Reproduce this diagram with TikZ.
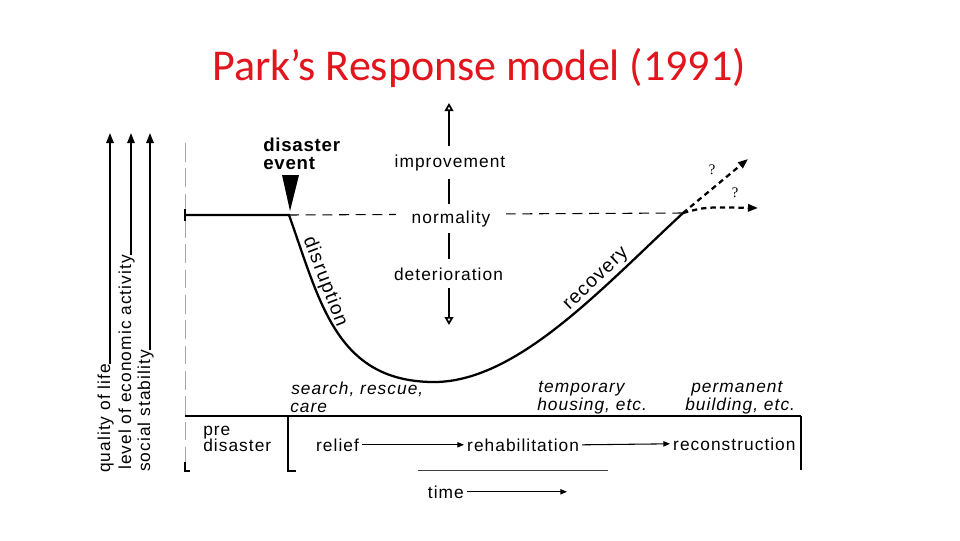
\documentclass[tikz,border=0pt]{standalone}
\usepackage{fontspec}
\setmainfont{Liberation Sans}
\newfontfamily\figfont{Liberation Sans}[LetterSpace=6]
\newfontfamily\figbold{Liberation Sans}[LetterSpace=4]
\newfontfamily\titlefont{Carlito}
\newfontfamily\qfont{Liberation Serif}
\usetikzlibrary{arrows.meta}
\definecolor{titlered}{RGB}{226,20,28}
\begin{document}
\begin{tikzpicture}[x=0.75pt,y=-0.75pt,
  lbl/.style={font=\figfont\fontsize{13}{15}\selectfont, inner sep=0pt, anchor=base},
  lblw/.style={lbl, anchor=base west},
  curvelbl/.style={font=\figfont\fontsize{14.5}{16}\selectfont, inner sep=0pt, anchor=center},
  ital/.style={font=\figfont\itshape\fontsize{13}{15}\selectfont, inner sep=0pt, anchor=base west},
  boldlbl/.style={font=\figbold\bfseries\fontsize{14}{16}\selectfont, inner sep=0pt, anchor=base west},
  qmark/.style={font=\qfont\fontsize{11}{13}\selectfont, inner sep=0pt},
  heavyln/.style={line width=1.7pt},
  medln/.style={line width=1.3pt},
  fineln/.style={line width=0.8pt},
  solidtip/.style={-{Triangle[length=7.5pt,width=5.5pt]}},
  smalltip/.style={-{Triangle[length=5pt,width=4pt]}},
  opentips/.style={{Triangle[open,length=6pt,width=6.5pt]}-{Triangle[open,length=6pt,width=6.5pt]}},
]
\useasboundingbox[fill=white] (0,0) rectangle (960,540);

% title
\node[font=\titlefont\fontsize{33}{39}\selectfont, text=titlered, anchor=base, inner sep=0pt] (title) at (479,80) {Park’s Response model (1991)};

% left vertical axes
\coordinate (ltop) at (0,133);
\node[lblw, rotate=90] (ql) at (110,473) {quality of life};
\node[lblw, rotate=90] (le) at (131,470) {level of economic activity};
\node[lblw, rotate=90] (ss) at (150,472) {social stability};
\draw[medln, solidtip] (ql.base east) -- (ql.base east |- ltop);
\draw[medln, solidtip] (le.base east) -- (le.base east |- ltop);
\draw[medln, solidtip] (ss.base east) -- (ss.base east |- ltop);

% frame
\draw[gray!70, line width=0.6pt, dash pattern=on 14pt off 5pt] (185,143) -- (185,462);
\coordinate (dis) at (289,215);
\coordinate (rec) at (683,213);
\coordinate (up) at (748,159);
\coordinate (low) at (758,208);

% normality dashed line
\draw[fineln, dash pattern=on 7.5pt off 5pt] (dis) -- (rec);

% central axis
\draw[medln, opentips] (449,325) -- (449,103);
\node[lbl, fill=white, inner xsep=2pt, inner ysep=6pt] (imp) at (450,167) {improvement};
\node[lbl, fill=white, inner xsep=12pt, inner ysep=5pt] (nor) at (451,223) {normality};
\node[lbl, fill=white, inner xsep=2pt, inner ysep=6pt] (det) at (448.5,280) {deterioration};

% response curve
\draw[medln] (185,209) -- (185,221);
\draw[heavyln] (185,215) -- (dis) .. controls (320,302) and (336,380) .. (431,382)
   .. controls (515,384) and (600,290) .. (rec);

% disaster event
\node[boldlbl] (de1) at (263,151) {disaster};
\node[boldlbl] (de2) at (263,169) {event};
\fill (282,175) -- (299,175) -- (290,211) -- cycle;

% curve labels
\node[curvelbl, rotate=-69] (disr) at (325,282) {disruption};
\node[curvelbl, rotate=44] (reco) at (597,280) {recovery};

% future branches
\draw[heavyln, dash pattern=on 4pt off 3pt, solidtip] (rec) -- (up);
\draw[heavyln, dash pattern=on 4pt off 3pt, solidtip] (rec) .. controls (705,207) .. (low);
\node[qmark] (q1) at (712,170) {?};
\node[qmark] (q2) at (735,193) {?};

% italic phase notes
\node[ital] (sr1) at (291,394) {search, rescue,};
\node[ital] (sr2) at (290,412) {care};
\node[ital] (th1) at (538,392) {temporary};
\node[ital] (th2) at (537,410) {housing, etc.};
\node[ital] (pb1) at (691,392) {permanent};
\node[ital] (pb2) at (685,410) {building, etc.};

% bottom band
\draw[medln] (185,416) -- (801,416);
\draw[heavyln] (288,416) -- (288,472);
\draw[fineln] (288,471) -- (296,471);
\draw[medln] (801,416) -- (801,470);
\draw[fineln] (185,462) -- (185,471) -- (190,471);
\draw[line width=0.6pt, black!75] (418,470) -- (608,470);

\node[lblw] (pre1) at (203,435) {pre};
\node[lblw] (pre2) at (203,451) {disaster};
\node[lblw, inner xsep=2.2pt] (rel) at (313,451) {relief};
\node[lblw, inner xsep=2.2pt] (reh) at (464,451) {rehabilitation};
\node[lblw, inner xsep=2.2pt] (rcn) at (670,450) {reconstruction};
\draw[fineln, smalltip] (rel.east) -- (reh.west);
\draw[fineln, smalltip] (reh.east) -- (rcn.west);

% time
\coordinate (tend) at (567,0);
\node[lblw, inner xsep=2pt] (time) at (425,498) {time};
\draw[fineln, smalltip] (time.east) -- (time.east -| tend);
\end{tikzpicture}
\end{document}
